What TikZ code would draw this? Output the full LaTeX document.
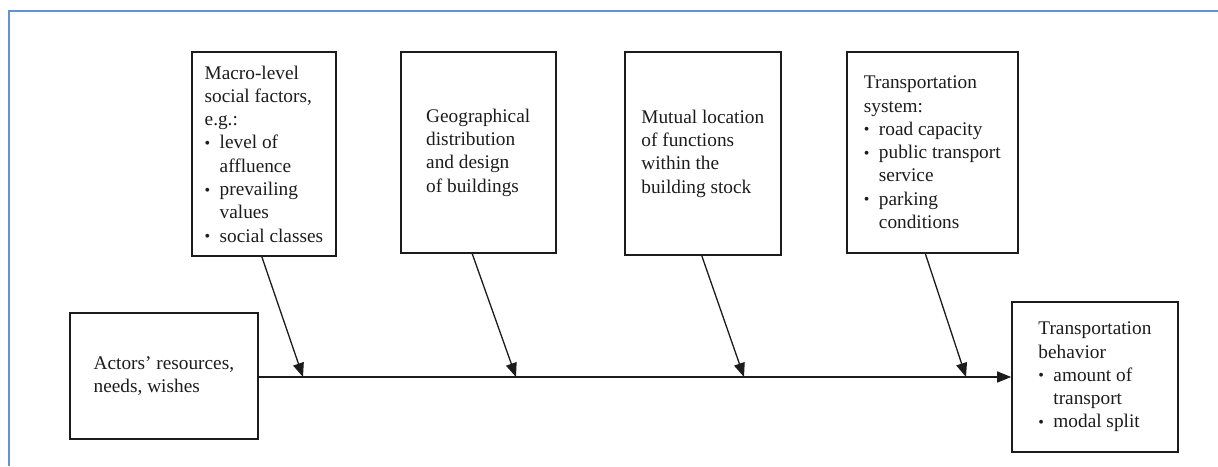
\documentclass[tikz,border=0pt]{standalone}
\usepackage{fontspec}
\setmainfont{Liberation Serif}
\usetikzlibrary{arrows.meta}
\definecolor{framebl}{RGB}{98,146,208}
\definecolor{ink}{RGB}{28,28,28}
\newcommand{\bul}{\makebox[15pt][l]{\raisebox{0.5pt}{\fontsize{16}{16}\selectfont •}}}
\newcommand{\ind}{\hspace*{15pt}}
\tikzset{
  box/.style={draw=ink, line width=1.7pt, rectangle, align=left, inner sep=0pt,
    font=\fontsize{19.3}{23.3}\selectfont, text=ink},
  arr/.style={draw=ink, line width=1.3pt, -{Triangle[length=14pt,width=11pt]}},
}
\begin{document}
\begin{tikzpicture}[x=1pt,y=-1pt]
\useasboundingbox (0,0) rectangle (1218,466);
\draw[framebl, line width=2.5pt] (9,466) -- (9,11) -- (1218,11);

\node[box, minimum width=144.3pt, minimum height=204.3pt] (macro) at (263.9,154)
  {Macro-level\\ social factors,\\ e.g.:\\ \bul level of\\ \ind affluence\\ \bul prevailing\\ \ind values\\ \bul social classes};
\node[box, minimum width=155pt, minimum height=200.7pt] (geo) at (478.2,152.5)
  {Geographical\\ distribution\\ and design\\ of buildings};
\node[box, minimum width=155.7pt, minimum height=203pt] (mutual) at (702.8,153.5)
  {Mutual location\\ of functions\\ within the\\ building stock};
\node[box, minimum width=171.3pt, minimum height=200.7pt] (transsys) at (932.3,152.4)
  {Transportation\\ system:\\ \bul road capacity\\ \bul public transport\\ \ind service\\ \bul parking\\ \ind conditions};
\node[box, minimum width=187.7pt, minimum height=126pt] (actors) at (163.9,376)
  {Actors’ resources,\\ needs, wishes};
\node[box, minimum width=165.7pt, minimum height=150pt] (behav) at (1094.9,377)
  {Transportation\\ behavior\\ \bul amount of\\ \ind transport\\ \bul modal split};

\coordinate (hs) at (actors.east |- 0,377);
\coordinate (t1) at (303,377);
\coordinate (t2) at (516,377);
\coordinate (t3) at (744,377);
\coordinate (t4) at (966,377);

\draw[arr] (hs) -- (hs -| behav.west);
\draw[arr] ([xshift=-2pt]macro.south) -- (t1);
\draw[arr] ([xshift=-6pt]geo.south) -- (t2);
\draw[arr] ([xshift=-1pt]mutual.south) -- (t3);
\draw[arr] ([xshift=-7pt]transsys.south) -- (t4);
\end{tikzpicture}
\end{document}
